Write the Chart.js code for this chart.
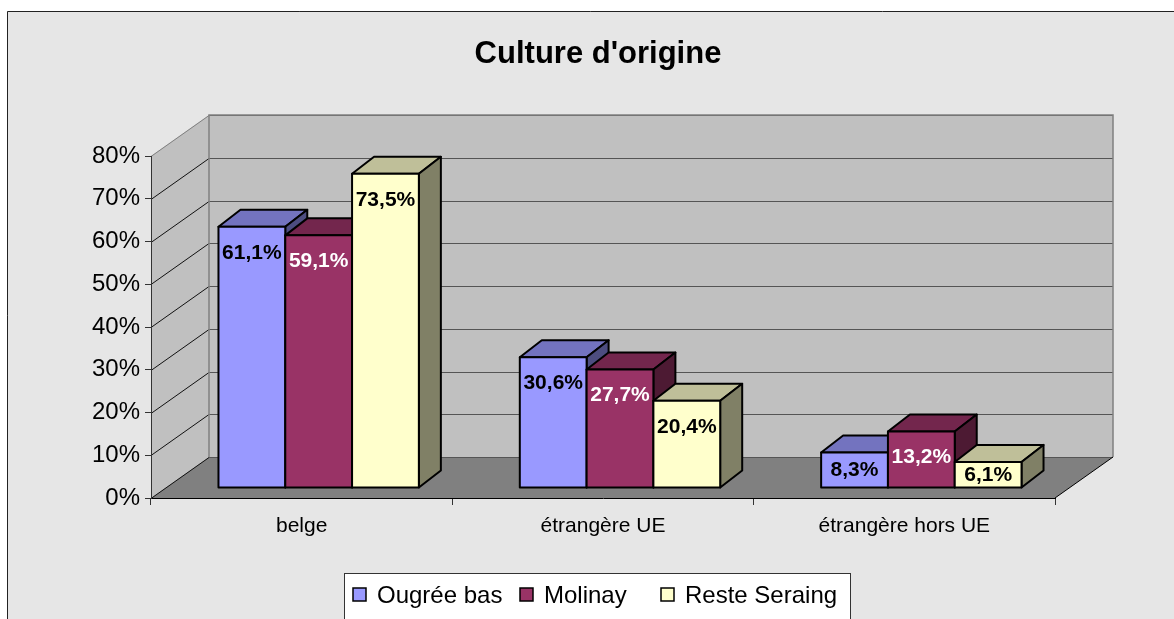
<!DOCTYPE html>
<html>
<head>
<meta charset="utf-8">
<script src="https://cdn.jsdelivr.net/npm/chart.js@4.4.1/dist/chart.umd.min.js"></script>
<style>
    html, body { margin: 0; padding: 0; background: #fff; }
    canvas { display: block; }
</style>
</head>
<body>
<canvas id="chart" width="1174" height="619"></canvas>
<script>
// Données
const categories = ['belge', 'étrangère UE', 'étrangère hors UE'];
const seriesNames = ['Ougrée bas', 'Molinay', 'Reste Seraing'];
const ougreeBas = [61.1, 30.6, 8.3];
const molinay = [59.1, 27.7, 13.2];
const resteSeraing = [73.5, 20.4, 6.1];
const seriesColors = ['#9999FF', '#993366', '#FFFFCC'];
const labelColors = ['#000', '#fff', '#000'];

const FONT = '"Liberation Sans", Arial, sans-serif';

// Géométrie 3D (style Excel)
const WALL_DX = 58, WALL_DY = -41;   // profondeur des murs
const BAR_SX = 17, BAR_SY = -10;     // décalage de la face avant des barres
const BAR_DX = 22, BAR_DY = -17;     // profondeur des barres

function shade(hex, f) {
    const n = parseInt(hex.slice(1), 16);
    const r = Math.round(((n >> 16) & 255) * f);
    const g = Math.round(((n >> 8) & 255) * f);
    const b = Math.round((n & 255) * f);
    return `rgb(${r},${g},${b})`;
}

function poly(ctx, pts, fill, stroke, lw) {
    ctx.beginPath();
    ctx.moveTo(pts[0][0], pts[0][1]);
    for (let i = 1; i < pts.length; i++) ctx.lineTo(pts[i][0], pts[i][1]);
    ctx.closePath();
    if (fill) { ctx.fillStyle = fill; ctx.fill(); }
    if (stroke) { ctx.strokeStyle = stroke; ctx.lineWidth = lw || 1; ctx.stroke(); }
}

function fmt(v) {
    return v.toFixed(1).replace('.', ',') + '%';
}

const excel3d = {
    id: 'excel3d',
    beforeDraw(chart) {
        const ctx = chart.ctx;
        const { left, right } = chart.chartArea;
        const y = chart.scales.y;
        const yTop = y.getPixelForValue(80);
        const yBot = y.getPixelForValue(0);
        ctx.save();
        // fond
        ctx.fillStyle = '#fff';
        ctx.fillRect(0, 0, chart.width, chart.height);
        ctx.fillStyle = '#e6e6e6';
        ctx.fillRect(7, 11, chart.width - 7, chart.height - 11);
        ctx.strokeStyle = '#222';
        ctx.lineWidth = 1;
        ctx.beginPath();
        ctx.moveTo(7.5, chart.height);
        ctx.lineTo(7.5, 11.5);
        ctx.lineTo(chart.width, 11.5);
        ctx.stroke();

        // murs et sol
        poly(ctx, [[left, yTop], [left + WALL_DX, yTop + WALL_DY], [left + WALL_DX, yBot + WALL_DY], [left, yBot]], '#c0c0c0');
        ctx.fillStyle = '#c0c0c0';
        ctx.fillRect(left + WALL_DX, yTop + WALL_DY, right - left, yBot - yTop);
        poly(ctx, [[left, yBot], [left + WALL_DX, yBot + WALL_DY], [right + WALL_DX, yBot + WALL_DY], [right, yBot]], '#808080');

        // quadrillage
        y.ticks.forEach(t => {
            const py = Math.round(y.getPixelForValue(t.value)) + 0.5;
            ctx.strokeStyle = '#555';
            ctx.lineWidth = 1.2;
            ctx.beginPath();
            ctx.moveTo(left + WALL_DX, py + WALL_DY);
            ctx.lineTo(right + WALL_DX, py + WALL_DY);
            ctx.stroke();
            ctx.strokeStyle = t.value === 80 ? '#808080' : '#111';
            ctx.lineWidth = 1;
            ctx.beginPath();
            ctx.moveTo(left, py);
            ctx.lineTo(left + WALL_DX, py + WALL_DY);
            ctx.stroke();
        });
        // contours
        ctx.strokeStyle = '#808080';
        ctx.lineWidth = 1.5;
        ctx.beginPath();
        ctx.moveTo(left + WALL_DX, yBot + WALL_DY);
        ctx.lineTo(left + WALL_DX, yTop + WALL_DY);
        ctx.lineTo(right + WALL_DX, yTop + WALL_DY);
        ctx.lineTo(right + WALL_DX, yBot + WALL_DY);
        ctx.stroke();
        ctx.strokeStyle = '#000';
        ctx.lineWidth = 1;
        ctx.beginPath();
        ctx.moveTo(right, yBot);
        ctx.lineTo(right + WALL_DX, yBot + WALL_DY);
        ctx.stroke();
        ctx.restore();
    },
    beforeDatasetDraw() {
        return false;
    },
    afterDatasetsDraw(chart) {
        const ctx = chart.ctx;
        const metas = chart.data.datasets.map((d, i) => chart.getDatasetMeta(i));
        const labels = [];
        ctx.save();
        ctx.lineJoin = 'round';
        categories.forEach((c, i) => {
            metas.forEach((meta, d) => {
                const el = meta.data[i];
                const x0 = el.x - el.width / 2 + BAR_SX;
                const x1 = el.x + el.width / 2 + BAR_SX;
                const yt = el.y + BAR_SY;
                const yb = el.base + BAR_SY;
                const col = seriesColors[d];
                poly(ctx, [[x0, yt], [x0 + BAR_DX, yt + BAR_DY], [x1 + BAR_DX, yt + BAR_DY], [x1, yt]], shade(col, 0.75), '#000', 2);
                poly(ctx, [[x1, yt], [x1 + BAR_DX, yt + BAR_DY], [x1 + BAR_DX, yb + BAR_DY], [x1, yb]], shade(col, 0.5), '#000', 2);
                poly(ctx, [[x0, yt], [x1, yt], [x1, yb], [x0, yb]], col, '#000', 2);
                const ly = Math.min(yt + 26, (yt + yb) / 2);
                labels.push({ x: (x0 + x1) / 2, y: ly, text: fmt(chart.data.datasets[d].data[i]), color: labelColors[d] });
            });
        });
        ctx.font = `bold 21px ${FONT}`;
        ctx.textAlign = 'center';
        ctx.textBaseline = 'middle';
        labels.forEach(l => {
            ctx.fillStyle = l.color;
            ctx.fillText(l.text, l.x, l.y);
        });
        ctx.restore();
    },
    afterDraw(chart) {
        const ctx = chart.ctx;
        ctx.save();
        // titre
        ctx.fillStyle = '#000';
        ctx.font = `bold 31px ${FONT}`;
        ctx.textAlign = 'center';
        ctx.textBaseline = 'middle';
        ctx.fillText("Culture d'origine", 598, 54);

        // légende
        ctx.fillStyle = '#fff';
        ctx.fillRect(344, 573, 506, 46);
        ctx.strokeStyle = '#333';
        ctx.lineWidth = 1;
        ctx.strokeRect(344.5, 573.5, 506, 46);
        const legendX = [353, 520, 661];
        ctx.font = `24px ${FONT}`;
        ctx.textAlign = 'left';
        seriesNames.forEach((name, i) => {
            ctx.fillStyle = seriesColors[i];
            ctx.fillRect(legendX[i], 588, 13, 13);
            ctx.strokeStyle = '#000';
            ctx.lineWidth = 1.5;
            ctx.strokeRect(legendX[i], 588, 13, 13);
            ctx.fillStyle = '#000';
            ctx.fillText(name, legendX[i] + 24, 596);
        });
        ctx.restore();
    }
};

Chart.defaults.font.family = FONT;

new Chart(document.getElementById('chart'), {
    type: 'bar',
    data: {
        labels: categories,
        datasets: [
            { label: seriesNames[0], data: ougreeBas, backgroundColor: seriesColors[0] },
            { label: seriesNames[1], data: molinay, backgroundColor: seriesColors[1] },
            { label: seriesNames[2], data: resteSeraing, backgroundColor: seriesColors[2] }
        ]
    },
    options: {
        responsive: false,
        animation: false,
        devicePixelRatio: 1,
        layout: { padding: { left: 0, top: 156, right: 119, bottom: 0 } },
        datasets: { bar: { categoryPercentage: 0.665, barPercentage: 1 } },
        scales: {
            x: {
                offset: true,
                grid: { offset: true, drawOnChartArea: false, tickLength: 7, color: '#333' },
                border: { color: '#000', width: 1 },
                ticks: { color: '#000', font: { size: 21 }, padding: 9 },
                afterFit(s) { s.height = 121; }
            },
            y: {
                min: 0,
                max: 80,
                ticks: { stepSize: 10, color: '#000', font: { size: 24 }, padding: 5, callback: v => v + '%' },
                grid: { drawOnChartArea: false, tickLength: 6, color: '#333' },
                border: { color: '#333', width: 1 },
                afterFit(s) { s.width = 151; }
            }
        },
        plugins: {
            legend: { display: false },
            title: { display: false },
            tooltip: { enabled: false }
        }
    },
    plugins: [excel3d]
});
</script>
</body>
</html>
